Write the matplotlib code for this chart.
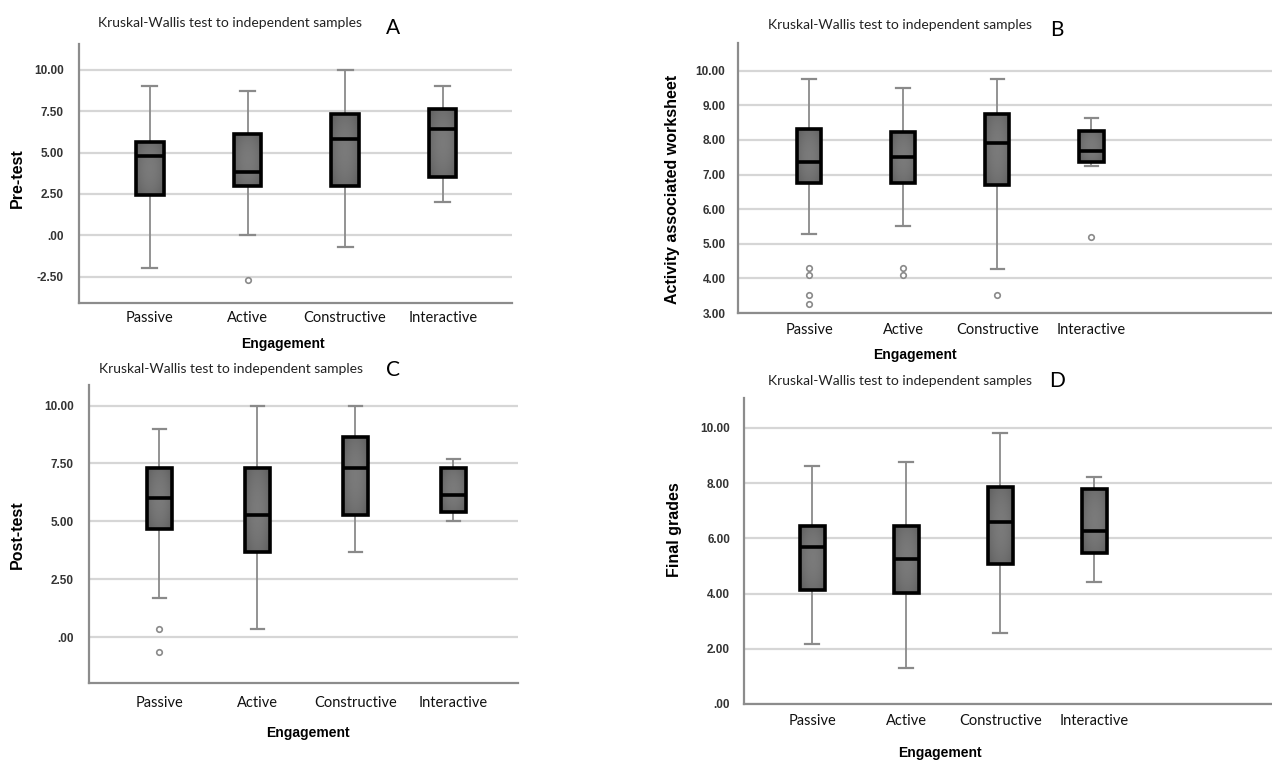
import numpy as np
import matplotlib
matplotlib.use("Agg")
import matplotlib.pyplot as plt

W, H = 1272, 761

groups = ["Passive", "Active", "Constructive", "Interactive"]
title = "Kruskal-Wallis test to independent samples"

# box stats per group: whislo, q1, med, q3, whishi
pre_test = [[-1.98, 2.45, 4.79, 5.65, 9.02],
            [0.0, 3.0, 3.81, 6.13, 8.72],
            [-0.67, 3.0, 5.8, 7.32, 10.0],
            [2.02, 3.54, 6.4, 7.64, 9.0]]
pre_fliers = [[], [-2.68], [], []]

worksheet = [[5.27, 6.77, 7.36, 8.31, 9.76],
             [5.5, 6.77, 7.5, 8.24, 9.51],
             [4.26, 6.69, 7.91, 8.76, 9.76],
             [7.26, 7.36, 7.69, 8.27, 8.63]]
worksheet_fliers = [[4.31, 4.1, 3.52, 3.27], [4.31, 4.1], [3.52], [5.21]]

post_test = [[1.68, 4.67, 6.0, 7.31, 9.01],
             [0.36, 3.66, 5.27, 7.31, 10.0],
             [3.68, 5.29, 7.31, 8.63, 10.0],
             [5.01, 5.4, 6.15, 7.3, 7.69]]
post_fliers = [[0.36, -0.63], [], [], []]

final_grades = [[2.18, 4.14, 5.69, 6.44, 8.62],
                [1.3, 4.01, 5.26, 6.46, 8.75],
                [2.58, 5.08, 6.59, 7.85, 9.82],
                [4.42, 5.46, 6.28, 7.8, 8.22]]
final_fliers = [[], [], [], []]

pre_ticks = [-2.5, 0, 2.5, 5, 7.5, 10]
worksheet_ticks = [3, 4, 5, 6, 7, 8, 9, 10]
post_ticks = [0, 2.5, 5, 7.5, 10]
final_ticks = [0, 2, 4, 6, 8, 10]


def fmt(v):
    s = "%.2f" % v
    if s.startswith("0."):
        s = s[1:]
    return s


def px_axes(fig, l, r, t, b):
    return fig.add_axes([l / W, 1 - b / H, (r - l) / W, (b - t) / H])


def ftext(fig, x, y, s, **kw):
    fig.text(x / W, 1 - y / H, s, **kw)


def panel(ax, data, fliers, ticks, ylim, xlim, width, pad):
    stats = []
    for d, f in zip(data, fliers):
        stats.append(dict(whislo=d[0], q1=d[1], med=d[2], q3=d[3], whishi=d[4], fliers=f))
    pos = np.arange(1, len(groups) + 1)
    ax.bxp(stats, positions=pos, widths=width, patch_artist=True,
           capwidths=width * 0.55,
           boxprops=dict(facecolor="none", edgecolor="black", linewidth=2.6, zorder=4),
           medianprops=dict(color="black", linewidth=2.6, zorder=5),
           whiskerprops=dict(color="#8a8a8a", linewidth=1.3, zorder=2),
           capprops=dict(color="#8a8a8a", linewidth=1.6, zorder=2),
           flierprops=dict(marker="o", markersize=4, markerfacecolor="white",
                           markeredgecolor="#8a8a8a", markeredgewidth=1.2))
    # soft grey shading inside the boxes
    xx = np.abs(np.linspace(-1, 1, 40))
    yy = np.abs(np.linspace(-1, 1, 40))
    shade = 0.48 - 0.07 * xx[None, :] ** 2 - 0.05 * yy[:, None] ** 2
    rgb = np.dstack([shade, shade, shade])
    for p, d in zip(pos, data):
        ax.imshow(rgb, aspect="auto", interpolation="bilinear",
                  extent=[p - width / 2, p + width / 2, d[1], d[3]], zorder=3)
    ax.set_xlim(*xlim)
    ax.set_ylim(*ylim)
    ax.set_yticks(ticks)
    ax.set_yticklabels([fmt(t) for t in ticks], fontfamily="Liberation Sans",
                       fontweight="bold", fontsize=8.5, color="#333333")
    ax.set_xticks([])
    ax.tick_params(axis="y", length=0, pad=pad)
    ax.grid(axis="y", color="#d6d6d6", linewidth=1.6, zorder=0)
    ax.set_axisbelow(True)
    for s in ["top", "right"]:
        ax.spines[s].set_visible(False)
    for s in ["left", "bottom"]:
        ax.spines[s].set_color("#8c8c8c")
        ax.spines[s].set_linewidth(1.6)


fig = plt.figure(figsize=(W / 100, H / 100), dpi=100)
fig.patch.set_facecolor("white")

panels = [
    # data, fliers, ticks, ylim, xlim, width, pad, axes px, label, letter, texts
    (pre_test, pre_fliers, pre_ticks, (-4.07, 11.54), (0.273, 4.71), 0.28, 11,
     (79, 512, 44, 303), "Pre-test", "A",
     dict(title=(230, 23), letter=(393, 28), ylab=(17, 178), xlab=(283, 344), cats=318)),
    (worksheet, worksheet_fliers, worksheet_ticks, (3.0, 10.8), (0.245, 5.92), 0.26, 9,
     (738, 1272, 43, 313), "Activity associated worksheet", "B",
     dict(title=(900, 25), letter=(1057, 30), ylab=(673, 189), xlab=(915, 355), cats=330)),
    (post_test, post_fliers, post_ticks, (-1.98, 10.89), (0.283, 4.66), 0.25, 11,
     (89, 518, 385, 683), "Post-test", "C",
     dict(title=(231, 369), letter=(393, 370), ylab=(17, 535), xlab=(308, 733), cats=703)),
    (final_grades, final_fliers, final_ticks, (0.0, 11.08), (0.272, 5.89), 0.27, 10,
     (744, 1272, 398, 704), "Final grades", "D",
     dict(title=(900, 381), letter=(1057, 381), ylab=(675, 530), xlab=(940, 753), cats=721)),
]

for data, fl, ticks, ylim, xlim, width, pad, box, ylab, letter, t in panels:
    ax = px_axes(fig, *box)
    panel(ax, data, fl, ticks, ylim, xlim, width, pad)
    ftext(fig, *t["title"], title, ha="center", va="center",
          fontfamily="Lato", fontsize=10, color="#222222")
    ftext(fig, *t["letter"], letter, ha="center", va="center",
          fontfamily="Lato", fontsize=15, color="black")
    ftext(fig, *t["ylab"], ylab, ha="center", va="center", rotation=90,
          fontfamily="Liberation Sans", fontweight="bold", fontsize=11.5)
    ftext(fig, *t["xlab"], "Engagement", ha="center", va="center",
          fontfamily="Liberation Sans", fontweight="bold", fontsize=10)
    # category labels under each box
    x0, x1 = box[0], box[1]
    for i, g in enumerate(groups):
        xp = x0 + (i + 1 - xlim[0]) / (xlim[1] - xlim[0]) * (x1 - x0)
        ftext(fig, xp, t["cats"], g, ha="center", va="center",
              fontfamily="Lato", fontsize=10.5, color="#111111")

fig.savefig("out.png", dpi=100)
